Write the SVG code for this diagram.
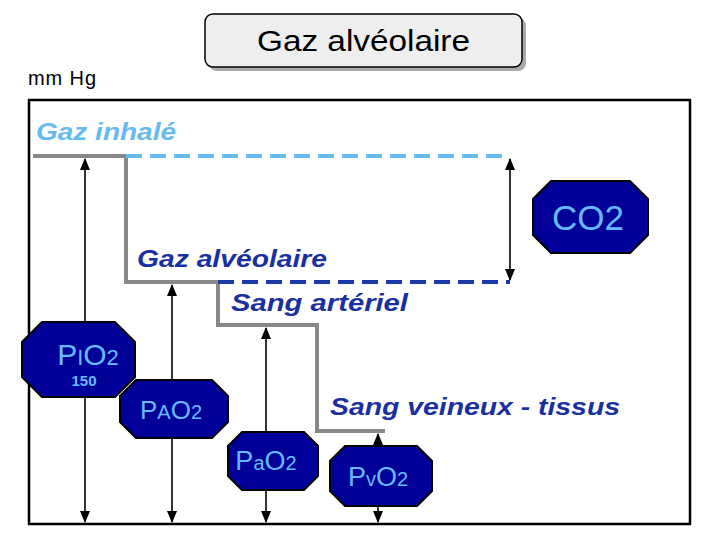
<svg xmlns="http://www.w3.org/2000/svg" width="720" height="540" viewBox="0 0 720 540">
<style>
.oct{fill:#000099;stroke:#000;stroke-width:2}
.ot{font-family:"Liberation Sans",Arial,sans-serif;fill:#66bbff;text-anchor:middle}
.lab{font-family:"Comic Sans MS","Liberation Sans",sans-serif;font-style:italic;font-weight:bold;font-size:24px}
.arr{stroke:#000;stroke-width:1.6;fill:none;marker-start:url(#ah);marker-end:url(#ah)}
</style>
<defs>
<marker id="ah" viewBox="0 0 12 10" refX="11" refY="5" markerWidth="12" markerHeight="10" orient="auto-start-reverse" markerUnits="userSpaceOnUse">
<path d="M0,0 L12,5 L0,10 z" fill="#000"/>
</marker>
</defs>
<rect width="720" height="540" fill="#fff"/>
<g id="title">
<rect x="209" y="18" width="317" height="53" rx="8" fill="#aaaaaa"/>
<rect x="205" y="14" width="317" height="53" rx="8" fill="#eeeeee" stroke="#000" stroke-width="1.5"/>
<text x="257" y="51" font-family="Comic Sans MS,Liberation Sans,sans-serif" font-size="30" textLength="213" lengthAdjust="spacingAndGlyphs">Gaz alvéolaire</text>
</g>
<text id="unit" x="28" y="85" font-family="Liberation Sans,sans-serif" font-size="20" textLength="68">mm Hg</text>
<rect id="frame" x="29" y="100" width="661" height="424" fill="none" stroke="#000" stroke-width="2.5"/>
<g id="levels">
<path d="M33,156 H126 V282 H218 V325 H317 V431 H385" fill="none" stroke="#888888" stroke-width="4"/>
<path d="M126,156 H510" stroke="#66bbee" stroke-width="4" stroke-dasharray="16,8" fill="none"/>
<path d="M218,282 H510" stroke="#1a3aaa" stroke-width="4" stroke-dasharray="16,8" fill="none"/>
</g>
<g id="connectors">
<line class="arr" x1="85" y1="522" x2="85" y2="159"/>
<line class="arr" x1="172" y1="522" x2="172" y2="285"/>
<line class="arr" x1="266" y1="522" x2="266" y2="328"/>
<line class="arr" x1="378" y1="522" x2="378" y2="434"/>
<line class="arr" x1="510" y1="159" x2="510" y2="280"/>
</g>
<text class="lab" x="36" y="140" fill="#66bbee" textLength="140" lengthAdjust="spacingAndGlyphs">Gaz inhalé</text>
<text class="lab" x="137" y="267" fill="#1a2fa0" textLength="190" lengthAdjust="spacingAndGlyphs">Gaz alvéolaire</text>
<text class="lab" x="231" y="311" fill="#1a2fa0" textLength="177" lengthAdjust="spacingAndGlyphs">Sang artériel</text>
<text class="lab" x="330" y="415" fill="#1a2fa0" textLength="290" lengthAdjust="spacingAndGlyphs">Sang veineux - tissus</text>
<g id="co2">
<polygon class="oct" points="551,181 630,181 648,199 648,235 630,253 551,253 533,235 533,199"/>
<text class="ot" x="588" y="230" font-size="35">CO2</text>
</g>
<g id="pio2">
<polygon class="oct" points="42,322 115,322 135,342 135,377 115,397 42,397 22,377 22,342"/>
<text class="ot" x="88" y="365" font-size="30">P<tspan font-size="22">I</tspan>O<tspan font-size="22">2</tspan></text>
<text class="ot" x="84" y="386" font-size="15" font-weight="bold">150</text>
</g>
<g id="pao2">
<polygon class="oct" points="136,380 212,380 228,396 228,422 212,438 136,438 120,422 120,396"/>
<text class="ot" x="171" y="419" font-size="26">P<tspan font-size="20">A</tspan>O<tspan font-size="20">2</tspan></text>
</g>
<g id="pa02">
<polygon class="oct" points="242,432 304,432 318,446 318,476 304,490 242,490 228,476 228,446"/>
<text class="ot" x="266" y="470" font-size="27">P<tspan font-size="20">a</tspan>O<tspan font-size="20">2</tspan></text>
</g>
<g id="pvo2">
<polygon class="oct" points="345,446 417,446 432,461 432,491 417,506 345,506 330,491 330,461"/>
<text class="ot" x="378" y="486" font-size="27">P<tspan font-size="20">v</tspan>O<tspan font-size="20">2</tspan></text>
</g>
</svg>
